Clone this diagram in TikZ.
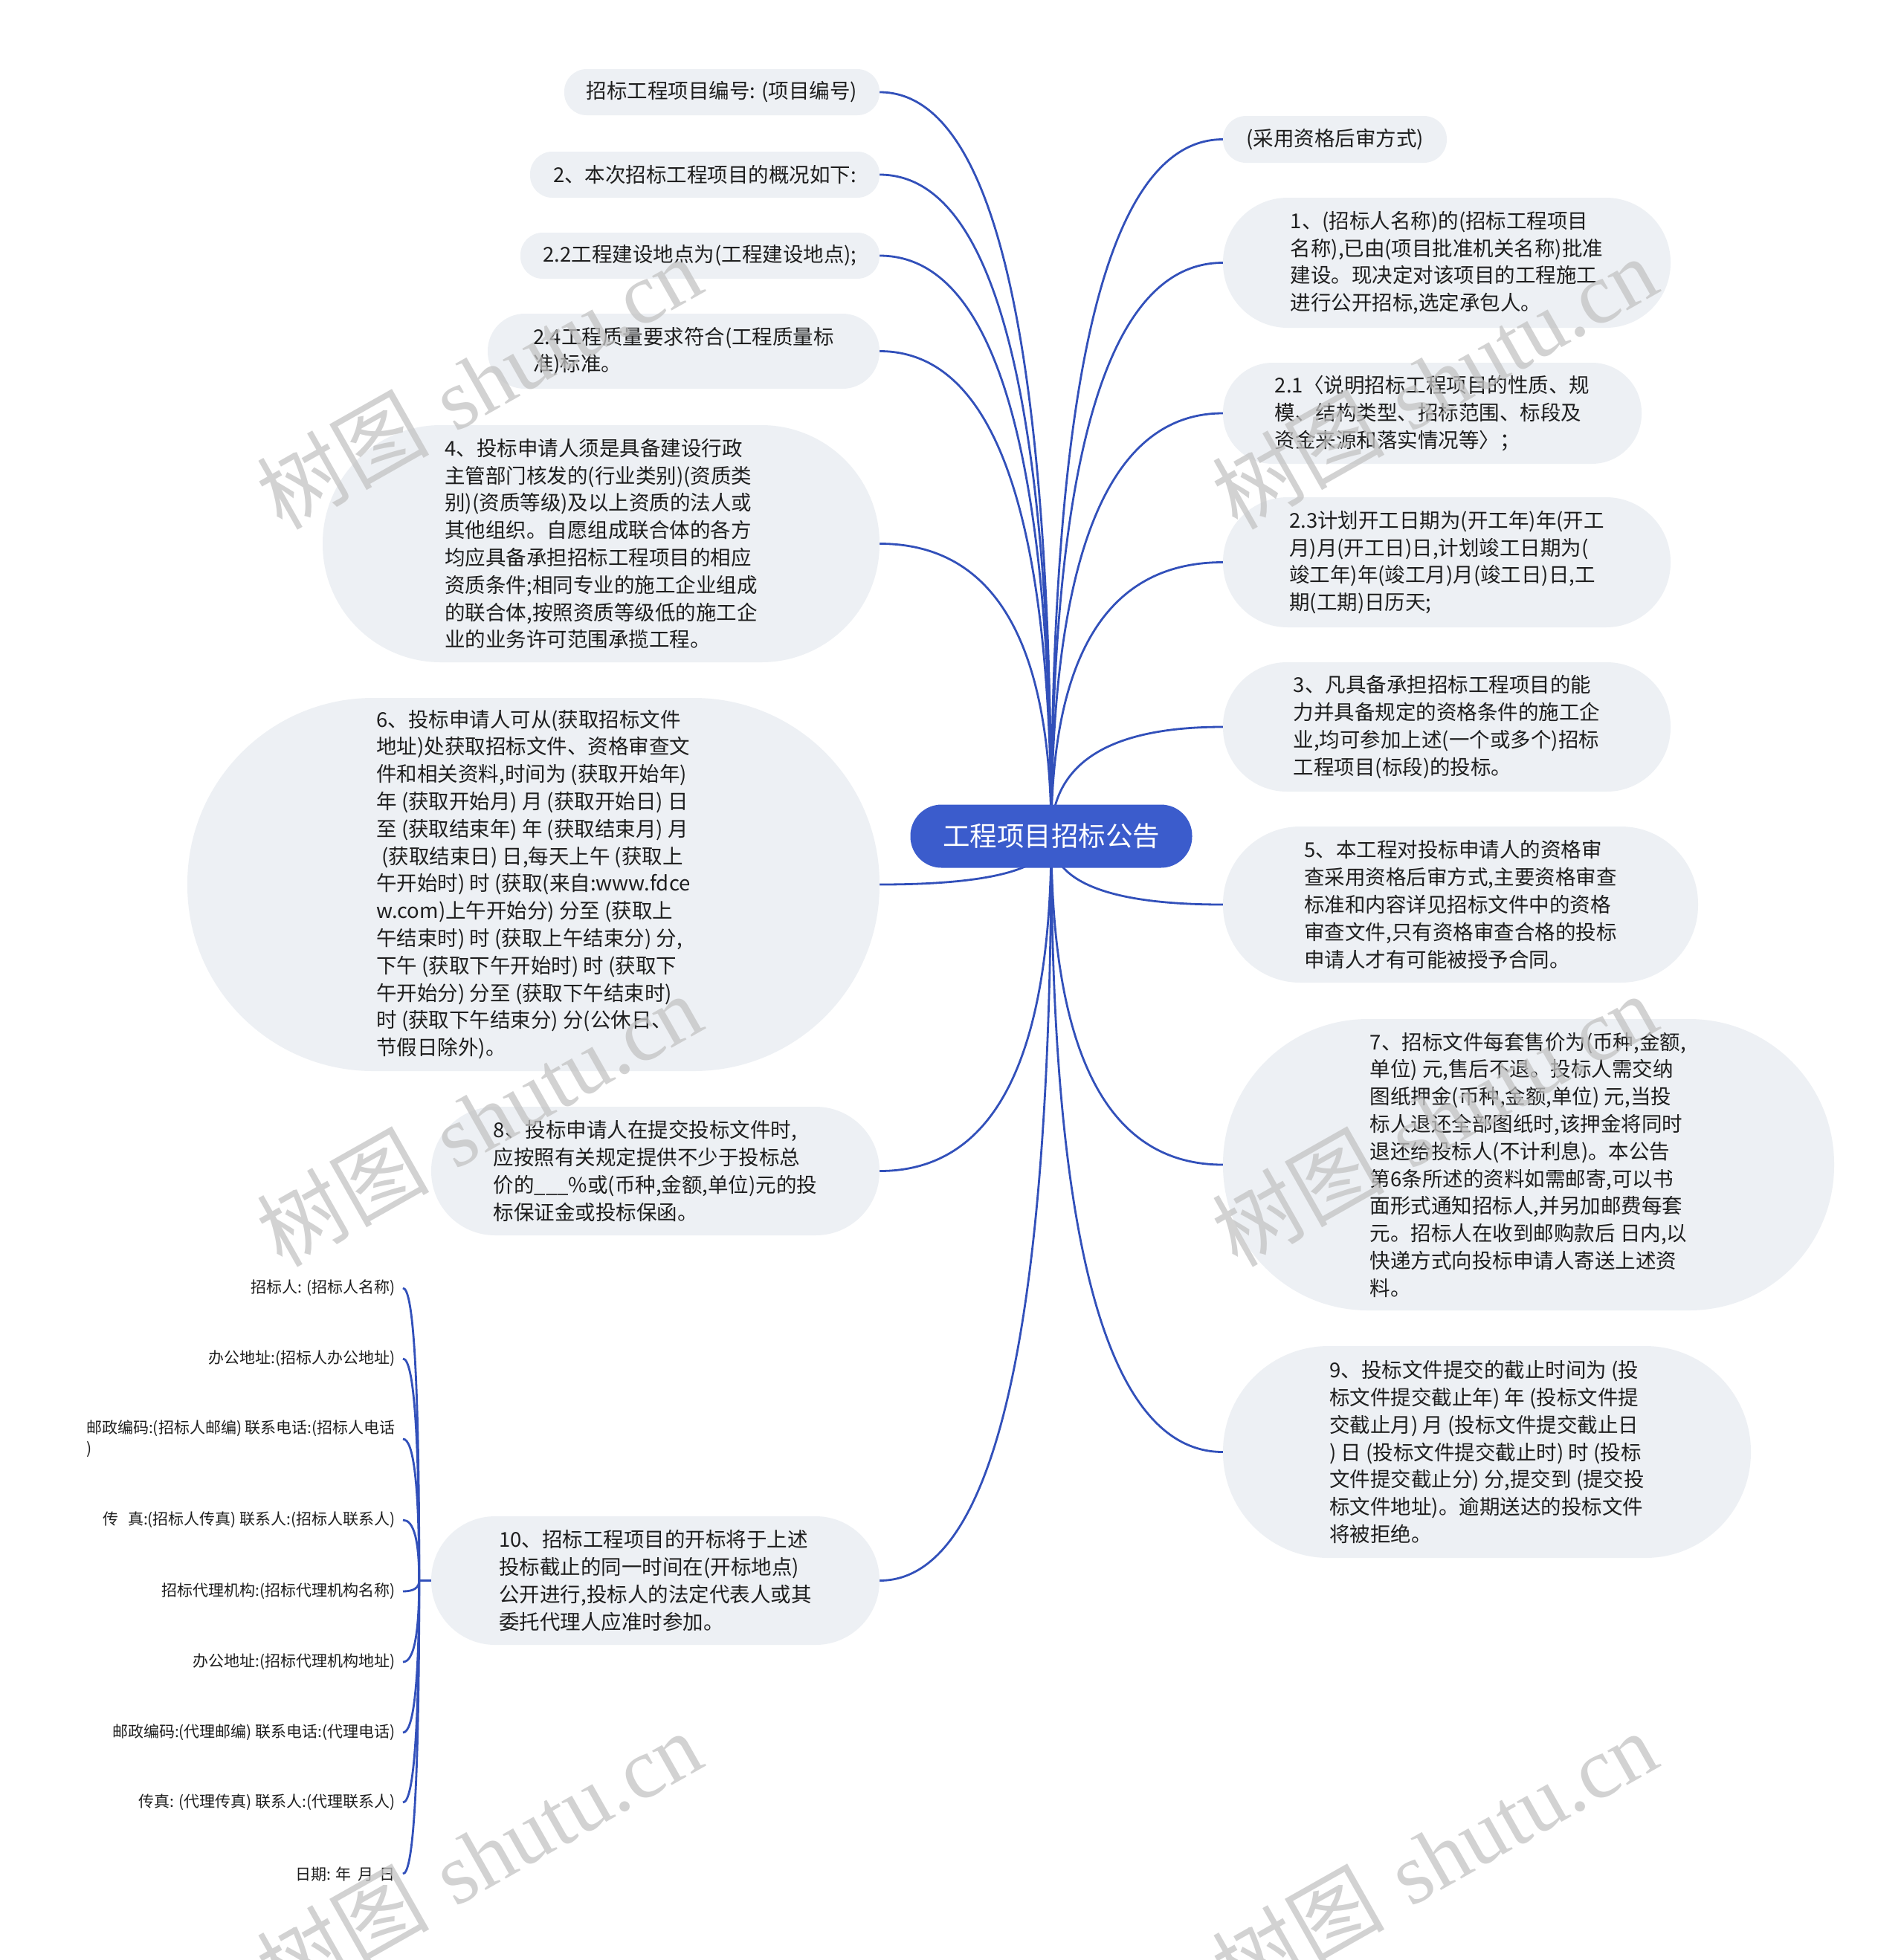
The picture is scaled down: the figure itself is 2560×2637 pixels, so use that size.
\documentclass[tikz,border=0pt]{standalone}
\usepackage{fontspec}
\setmainfont{Noto Sans CJK SC}
\newfontfamily\wmlatin{Liberation Serif}
\usetikzlibrary{calc}
\pgfdeclarelayer{bg}
\pgfsetlayers{bg,main}
\definecolor{bubfill}{RGB}{237,240,244}
\definecolor{edgeblue}{RGB}{50,80,186}
\definecolor{ctrblue}{RGB}{59,92,204}
\definecolor{txt}{RGB}{30,30,30}
\definecolor{wmgray}{RGB}{195,195,195}
\newcommand\lbranch[1]{\draw[edge] (ctr.center) .. controls ($(ctr.center)!0.667!(ctr.center |- #1.east)$) and ($(#1.east)!0.667!(ctr.center |- #1.east)$) .. (#1.east);}
\newcommand\rbranch[1]{\draw[edge] (ctr.center) .. controls ($(ctr.center)!0.667!(ctr.center |- #1.west)$) and ($(#1.west)!0.667!(ctr.center |- #1.west)$) .. (#1.west);}
\newcommand\kbranch[1]{\draw[edge] (L8.west) -- (trk) .. controls ($(trk)!0.667!(trk |- #1.east)$) and ($(#1.east)!0.667!(trk |- #1.east)$) .. (#1.east);}
\tikzset{
  bub/.style={fill=bubfill, rounded corners=#1, inner sep=0pt, align=left, text=txt, font={\fontsize{27.5pt}{36.8pt}\selectfont}},
  ctrnode/.style={fill=ctrblue, rounded corners=42pt, minimum width=379pt, minimum height=85pt, inner sep=0pt, text=white, font={\fontsize{36.5pt}{44pt}\selectfont}},
  kid/.style={anchor=east, inner xsep=10pt, inner ysep=2pt, align=left, text=txt, font={\fontsize{21pt}{28pt}\selectfont}},
  edge/.style={draw=edgeblue, line width=2.8pt},
  wm/.style={text=wmgray, opacity=0.75, rotate=29.5, inner sep=0pt, font={\fontsize{116pt}{116pt}\selectfont}}
}
\begin{document}
\begin{tikzpicture}[x=1pt, y=-1pt]
\useasboundingbox (0,0) rectangle (2560,2637);
\begin{pgfonlayer}{bg}
\fill[white] (0,0) rectangle (2560,2637);
\end{pgfonlayer}

% centre
\node[ctrnode] (ctr) at (1414,1125) {工程项目招标公告};

% left branches
\node[bub=30pt, minimum width=424pt, minimum height=62pt] (L1) at (971,124) {招标工程项目编号: (项目编号)};
\node[bub=30pt, minimum width=470pt, minimum height=62pt] (L2) at (948,235) {2、本次招标工程项目的概况如下:};
\node[bub=30pt, minimum width=483pt, minimum height=62pt] (L3) at (941.5,344) {2.2工程建设地点为(工程建设地点);};
\node[bub=50pt, minimum width=527pt, minimum height=101pt] (L4) at (919.5,472.5) {2.4工程质量要求符合(工程质量标\\准)标准。};
\node[bub=159pt, minimum width=749pt, minimum height=319pt] (L5) at (808.5,731.5) {4、投标申请人须是具备建设行政\\主管部门核发的(行业类别)(资质类\\别)(资质等级)及以上资质的法人或\\其他组织。自愿组成联合体的各方\\均应具备承担招标工程项目的相应\\资质条件;相同专业的施工企业组成\\的联合体,按照资质等级低的施工企\\业的业务许可范围承揽工程。};
\node[bub=250pt, minimum width=931pt, minimum height=502pt] (L6) at (717.5,1190) {6、投标申请人可从(获取招标文件\\地址)处获取招标文件、资格审查文\\件和相关资料,时间为 (获取开始年)\\年 (获取开始月) 月 (获取开始日) 日\\至 (获取结束年) 年 (获取结束月) 月\\\hspace*{0.25em}(获取结束日) 日,每天上午 (获取上\\午开始时) 时 (获取(来自:www.fdce\\w.com)上午开始分) 分至 (获取上\\午结束时) 时 (获取上午结束分) 分,\\下午 (获取下午开始时) 时 (获取下\\午开始分) 分至 (获取下午结束时)\\时 (获取下午结束分) 分(公休日、\\节假日除外)。};
\node[bub=86pt, minimum width=603pt, minimum height=173pt] (L7) at (881.5,1575.5) {8、投标申请人在提交投标文件时,\\应按照有关规定提供不少于投标总\\价的\_\_\_\%或(币种,金额,单位)元的投\\标保证金或投标保函。};
\node[bub=86pt, minimum width=603pt, minimum height=173pt] (L8) at (881.5,2126.5) {10、招标工程项目的开标将于上述\\投标截止的同一时间在(开标地点)\\公开进行,投标人的法定代表人或其\\委托代理人应准时参加。};

% right branches
\node[bub=31pt, minimum width=301pt, minimum height=63pt] (R1) at (1795.5,187.5) {(采用资格后审方式)};
\node[bub=87pt, minimum width=602pt, minimum height=175pt] (R2) at (1946,353.5) {1、(招标人名称)的(招标工程项目\\名称),已由(项目批准机关名称)批准\\建设。现决定对该项目的工程施工\\进行公开招标,选定承包人。};
\node[bub=67pt, minimum width=563pt, minimum height=136pt] (R3) at (1926.5,556) {2.1〈说明招标工程项目的性质、规\\模、结构类型、招标范围、标段及\\资金来源和落实情况等〉；};
\node[bub=87pt, minimum width=602pt, minimum height=175pt] (R4) at (1946,756.5) {2.3计划开工日期为(开工年)年(开工\\月)月(开工日)日,计划竣工日期为(\\竣工年)年(竣工月)月(竣工日)日,工\\期(工期)日历天;};
\node[bub=86pt, minimum width=602pt, minimum height=174pt] (R5) at (1946,978) {3、凡具备承担招标工程项目的能\\力并具备规定的资格条件的施工企\\业,均可参加上述(一个或多个)招标\\工程项目(标段)的投标。};
\node[bub=104pt, minimum width=639pt, minimum height=210pt] (R6) at (1964.5,1217) {5、本工程对投标申请人的资格审\\查采用资格后审方式,主要资格审查\\标准和内容详见招标文件中的资格\\审查文件,只有资格审查合格的投标\\申请人才有可能被授予合同。};
\node[bub=195pt, minimum width=822pt, minimum height=392pt] (R7) at (2056,1567) {7、招标文件每套售价为(币种,金额,\\单位) 元,售后不退。投标人需交纳\\图纸押金(币种,金额,单位) 元,当投\\标人退还全部图纸时,该押金将同时\\退还给投标人(不计利息)。本公告\\第6条所述的资料如需邮寄,可以书\\面形式通知招标人,并另加邮费每套\\元。招标人在收到邮购款后 日内,以\\快递方式向投标申请人寄送上述资\\料。};
\node[bub=142pt, minimum width=710pt, minimum height=285pt] (R8) at (2000,1953.5) {9、投标文件提交的截止时间为 (投\\标文件提交截止年) 年 (投标文件提\\交截止月) 月 (投标文件提交截止日\\) 日 (投标文件提交截止时) 时 (投标\\文件提交截止分) 分,提交到 (提交投\\标文件地址)。逾期送达的投标文件\\将被拒绝。};

% children of L8
\node[kid] (C1) at (542,1733) {招标人: (招标人名称)};
\node[kid] (C2) at (542,1828) {办公地址:(招标人办公地址)};
\node[kid] (C3) at (542,1936) {邮政编码:(招标人邮编) 联系电话:(招标人电话\\)};
\node[kid] (C4) at (542,2045) {传\hspace{0.6em}真:(招标人传真) 联系人:(招标人联系人)};
\node[kid] (C5) at (542,2141) {招标代理机构:(招标代理机构名称)};
\node[kid] (C6) at (542,2236) {办公地址:(招标代理机构地址)};
\node[kid] (C7) at (542,2331) {邮政编码:(代理邮编) 联系电话:(代理电话)};
\node[kid] (C8) at (542,2425) {传真: (代理传真) 联系人:(代理联系人)};
\node[kid] (C9) at (542,2521) {日期: 年\hspace{0.4em}月\hspace{0.4em}日};
\coordinate (trk) at ($(L8.west)+(-16,0)$);

\begin{pgfonlayer}{bg}
\lbranch{L1}\lbranch{L2}\lbranch{L3}\lbranch{L4}
\lbranch{L5}\lbranch{L6}\lbranch{L7}\lbranch{L8}
\rbranch{R1}\rbranch{R2}\rbranch{R3}\rbranch{R4}
\rbranch{R5}\rbranch{R6}\rbranch{R7}\rbranch{R8}
\kbranch{C1}\kbranch{C2}\kbranch{C3}\kbranch{C4}\kbranch{C5}
\kbranch{C6}\kbranch{C7}\kbranch{C8}\kbranch{C9}
\end{pgfonlayer}

% watermarks
\node[wm] (W1) at (644,514) {树图\hspace{0.3em}{\wmlatin shutu.cn}};
\node[wm] (W2) at (1929,514) {树图\hspace{0.3em}{\wmlatin shutu.cn}};
\node[wm] (W3) at (644,1506) {树图\hspace{0.3em}{\wmlatin shutu.cn}};
\node[wm] (W4) at (1929,1506) {树图\hspace{0.3em}{\wmlatin shutu.cn}};
\node[wm] (W5) at (644,2498) {树图\hspace{0.3em}{\wmlatin shutu.cn}};
\node[wm] (W6) at (1929,2498) {树图\hspace{0.3em}{\wmlatin shutu.cn}};
\end{tikzpicture}
\end{document}
